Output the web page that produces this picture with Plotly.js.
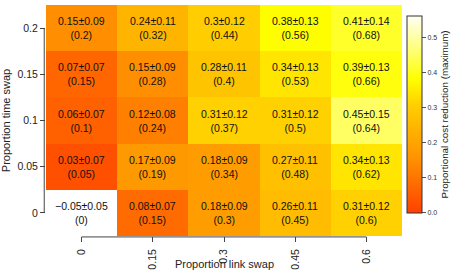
<!DOCTYPE html>
<html>
<head>
<meta charset="utf-8">
<script src="https://cdn.plot.ly/plotly-3.0.1.min.js"></script>
<style>html,body{margin:0;padding:0;background:#fff}#chart{width:463px;height:278px}</style>
</head>
<body>
<div id="chart"></div>
<script>
// Data (rows = time swap, cols = link swap)
const linkSwap = [0, 0.15, 0.3, 0.45, 0.6];
const timeSwap = [0, 0.05, 0.1, 0.15, 0.2];
const xTickLabels = ["0", "0.15", "0.3", "0.45", "0.6"];
const yTickLabels = ["0", "0.05", "0.1", "0.15", "0.2"];
const meanValues = [
  [-0.05, 0.08, 0.18, 0.26, 0.31],
  [0.03, 0.17, 0.18, 0.27, 0.34],
  [0.06, 0.12, 0.31, 0.31, 0.45],
  [0.07, 0.15, 0.28, 0.34, 0.39],
  [0.15, 0.24, 0.3, 0.38, 0.41]
];
const sdValues = [
  [0.05, 0.07, 0.09, 0.11, 0.12],
  [0.07, 0.09, 0.09, 0.11, 0.13],
  [0.07, 0.08, 0.12, 0.12, 0.15],
  [0.07, 0.09, 0.11, 0.13, 0.13],
  [0.09, 0.11, 0.12, 0.13, 0.14]
];
const maxValues = [
  [0, 0.15, 0.3, 0.45, 0.6],
  [0.05, 0.19, 0.34, 0.48, 0.62],
  [0.1, 0.24, 0.37, 0.5, 0.64],
  [0.15, 0.28, 0.4, 0.53, 0.66],
  [0.2, 0.32, 0.44, 0.56, 0.68]
];
const colorTicks = [0, 0.1, 0.2, 0.3, 0.4, 0.5];

const zMin = 0, zMax = 0.56;
const zColor = meanValues.map(r => r.map(v => v >= zMin ? v : null));

const fmt = v => (v < 0 ? "\u2212" + String(Math.abs(v)) : String(v));
const annotations = [];
timeSwap.forEach((ty, i) => {
  linkSwap.forEach((lx, j) => {
    annotations.push({
      x: lx, y: ty, xref: 'x', yref: 'y', showarrow: false,
      text: fmt(meanValues[i][j]) + "\u00b1" + sdValues[i][j] + "<br>(" + maxValues[i][j] + ")",
      font: {size: 10.5, color: '#111'}
    });
  });
});
annotations.push({
  x: 0.5, y: -0.122, xref: 'paper', yref: 'paper', showarrow: false,
  text: "Proportion link swap", font: {size: 11, color: '#222'}, yanchor: 'middle'
});

const trace = {
  type: 'heatmap',
  x: linkSwap, y: timeSwap, z: zColor,
  zmin: zMin, zmax: zMax,
  colorscale: [
    [0, '#FF4000'], [0.14, '#FF6A00'], [0.30, '#FF9800'], [0.43, '#FFB400'],
    [0.55, '#FFD000'], [0.68, '#FFFF00'], [0.82, '#FFFF70'], [1, '#FFFFF4']
  ],
  hoverongaps: false,
  xgap: 0, ygap: 0,
  colorbar: {
    x: 1.014, xanchor: 'left', xref: 'paper',
    y: 0.526, yanchor: 'middle', len: 0.853, lenmode: 'fraction',
    thickness: 15, thicknessmode: 'pixels',
    outlinecolor: '#333', outlinewidth: 1,
    tickvals: colorTicks, ticktext: colorTicks.map(v => v.toFixed(1)),
    ticks: 'outside', ticklen: 4, tickcolor: '#555',
    ticklabelstandoff: 3,
    tickfont: {size: 7, color: '#333'},
    xpad: 0, ypad: 0,
    title: {text: "Proportional cost reduction (maximum)", side: 'right', font: {size: 9.8, color: '#222'}}
  }
};

const layout = {
  width: 463, height: 278,
  margin: {l: 46, r: 61, t: 5, b: 42},
  paper_bgcolor: '#fff', plot_bgcolor: '#fff',
  font: {family: 'Liberation Sans, Arial, sans-serif', color: '#222'},
  xaxis: {
    range: [-0.075, 0.675], tickvals: linkSwap, ticktext: xTickLabels,
    tickangle: -90, ticks: 'outside', ticklen: 5, tickcolor: '#444',
    ticklabelstandoff: 3,
    showgrid: false, zeroline: false, showline: false,
    tickfont: {size: 10.5, color: '#222'}, fixedrange: true
  },
  yaxis: {
    range: [-0.025, 0.225], tickvals: timeSwap, ticktext: yTickLabels,
    ticks: 'outside', ticklen: 5, tickcolor: '#444',
    showgrid: false, zeroline: false, showline: false,
    tickfont: {size: 10.5, color: '#222'},
    title: {text: "Proportion time swap", font: {size: 11, color: '#222'}, standoff: 5}
  },
  shapes: [
    {type: 'line', xref: 'paper', yref: 'y', x0: -0.005, x1: -0.005, y0: timeSwap[0], y1: timeSwap[timeSwap.length-1], line: {color: '#444', width: 1}},
    {type: 'line', xref: 'x', yref: 'paper', x0: linkSwap[0], x1: linkSwap[linkSwap.length-1], y0: -0.004, y1: -0.004, line: {color: '#444', width: 1}}
  ],
  annotations: annotations,
  showlegend: false
};

Plotly.newPlot('chart', [trace], layout, {displayModeBar: false, staticPlot: true});
</script>
</body>
</html>
